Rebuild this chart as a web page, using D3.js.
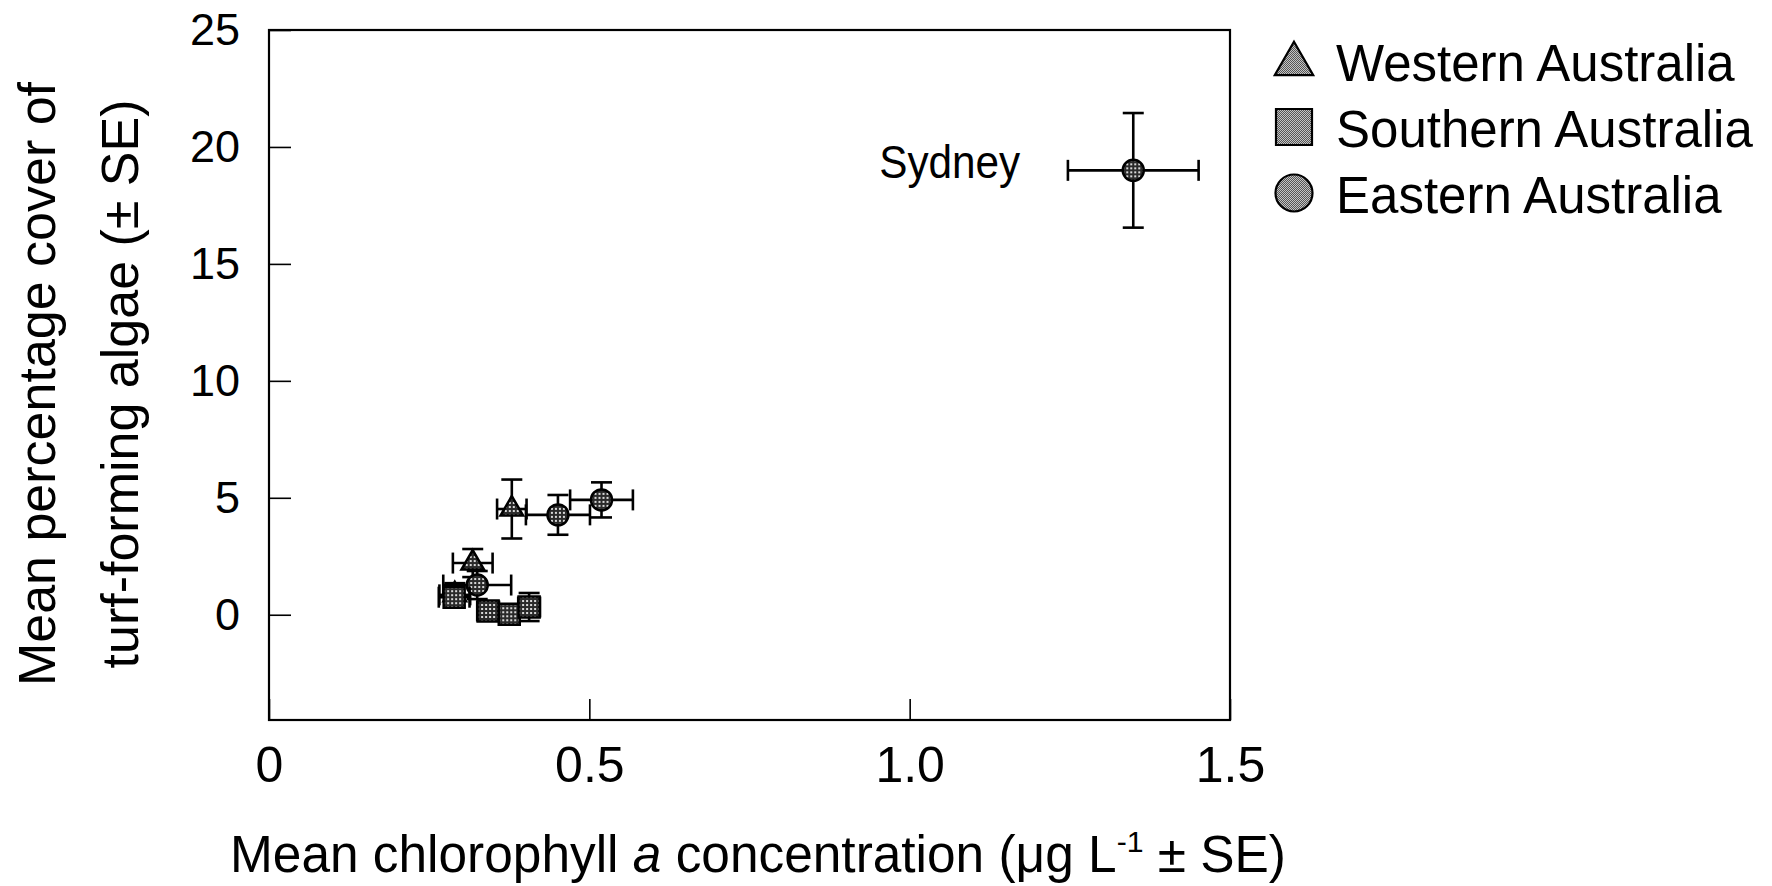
<!DOCTYPE html>
<html>
<head>
<meta charset="utf-8">
<script src="https://cdn.jsdelivr.net/npm/d3@7/dist/d3.min.js"></script>
<style>
  body { margin: 0; background: #fff; }
  text { font-family: "Liberation Sans", Arial, sans-serif; fill: #000; }
</style>
</head>
<body>
<script>
var w = 1772;
var h = 886;

// values
var seriesNames = ["Western Australia", "Southern Australia", "Eastern Australia"];

var westX    = [0.379, 0.318, 0.290];
var westY    = [4.52, 2.21, 0.85];
var westXErr = [0.023, 0.031, 0.024];
var westYErr = [1.26, 0.6, 0.5];

var southX    = [0.289, 0.342, 0.375, 0.406];
var southY    = [0.75, 0.16, 0.02, 0.33];
var southXErr = [0.024, 0.017, 0.015, 0.017];
var southYErr = [0.3, 0.2, 0.2, 0.6];

var eastX    = [0.325, 0.451, 0.519, 1.349];
var eastY    = [1.27, 4.27, 4.91, 19.0];
var eastXErr = [0.053, 0.05, 0.049, 0.102];
var eastYErr = [0.6, 0.85, 0.75, 2.45];

var xTicks = [0, 0.5, 1.0, 1.5];
var xTickLabels = ["0", "0.5", "1.0", "1.5"];
var yTicks = [0, 5, 10, 15, 20, 25];

var plotLeft = 269, plotRight = 1230, plotTop = 30, plotBottom = 720;

var svg = d3.select('body')
            .append('svg')
            .attr('width', w)
            .attr('height', h)

svg.append('rect').attr('width', w).attr('height', h).attr('fill', '#fff')

// dotted fills
var defs = svg.append('defs')
var pd = defs.append('pattern').attr('id', 'dotsDark')
             .attr('width', 4).attr('height', 4).attr('patternUnits', 'userSpaceOnUse')
pd.append('rect').attr('width', 4).attr('height', 4).attr('fill', '#2a2a2a')
pd.append('rect').attr('x', 1).attr('y', 1).attr('width', 2).attr('height', 2).attr('fill', '#d8d8d8')

var pl = defs.append('pattern').attr('id', 'dotsLight')
             .attr('width', 2).attr('height', 2).attr('patternUnits', 'userSpaceOnUse')
pl.append('rect').attr('width', 2).attr('height', 2).attr('fill', '#c4c4c4')
pl.append('rect').attr('width', 1).attr('height', 1).attr('fill', '#555')
pl.append('rect').attr('x', 1).attr('y', 1).attr('width', 1).attr('height', 1).attr('fill', '#555')

var x = d3.scaleLinear().domain([0, 1.5]).range([plotLeft, plotRight])
var y = d3.scaleLinear().domain([-4.5, 25]).range([plotBottom, plotTop])

// axes, ticks pointing inward
var yAxis = svg.append('g')
               .attr('transform', 'translate(' + plotLeft + ',0)')
               .call(d3.axisLeft(y).tickValues(yTicks).tickSize(-22).tickPadding(29))
yAxis.select('.domain').remove()
yAxis.selectAll('line').attr('stroke', '#000').attr('stroke-width', 1.6)
yAxis.selectAll('text').attr('font-size', 45).attr('font-family', '"Liberation Sans", Arial, sans-serif')

var xAxis = svg.append('g')
               .attr('transform', 'translate(0,' + plotBottom + ')')
               .call(d3.axisBottom(x).tickValues(xTicks)
                        .tickFormat(function(d, i){ return xTickLabels[i] })
                        .tickSize(-21).tickPadding(26))
xAxis.select('.domain').remove()
xAxis.selectAll('line').attr('stroke', '#000').attr('stroke-width', 1.6)
xAxis.selectAll('text').attr('font-size', 50).attr('font-family', '"Liberation Sans", Arial, sans-serif')

// plot frame
svg.append('rect')
   .attr('x', plotLeft).attr('y', plotTop)
   .attr('width', plotRight - plotLeft).attr('height', plotBottom - plotTop)
   .attr('fill', 'none').attr('stroke', '#000').attr('stroke-width', 2.2)

// axis titles
var xt = svg.append('text')
            .attr('x', 230).attr('y', 872)
            .attr('font-size', 51)
            .attr('textLength', 1056).attr('lengthAdjust', 'spacingAndGlyphs')
xt.append('tspan').text('Mean chlorophyll ')
xt.append('tspan').attr('font-style', 'italic').text('a')
xt.append('tspan').text(' concentration (\u03bcg L')
xt.append('tspan').attr('font-size', 30).attr('dy', -20).text('-1')
xt.append('tspan').attr('dy', 20).text(' \u00b1 SE)')

var yt = svg.append('text')
            .attr('transform', 'translate(55,384) rotate(-90)')
            .attr('text-anchor', 'middle')
            .attr('font-size', 52)
yt.append('tspan').attr('x', 0).attr('y', 0).text('Mean percentage cover of')
yt.append('tspan').attr('x', 0).attr('y', 83).text('turf-forming algae (\u00b1 SE)')

// points with error bars
var cap = 10.5

function drawSeries(xs, ys, xe, ye, symbolType, size) {
    var data = xs.map(function(d, i){ return {x: d, y: ys[i], xe: xe[i], ye: ye[i]} })
    var g = svg.append('g')

    var eb = g.selectAll('.eb').data(data).enter().append('g')
              .attr('stroke', '#000').attr('stroke-width', 2.6).attr('fill', 'none')
    eb.append('line')
      .attr('x1', function(d){ return x(d.x - d.xe) }).attr('x2', function(d){ return x(d.x + d.xe) })
      .attr('y1', function(d){ return y(d.y) }).attr('y2', function(d){ return y(d.y) })
    eb.append('line')
      .attr('x1', function(d){ return x(d.x) }).attr('x2', function(d){ return x(d.x) })
      .attr('y1', function(d){ return y(d.y - d.ye) }).attr('y2', function(d){ return y(d.y + d.ye) })
    // caps
    eb.append('line')
      .attr('x1', function(d){ return x(d.x - d.xe) }).attr('x2', function(d){ return x(d.x - d.xe) })
      .attr('y1', function(d){ return y(d.y) - cap }).attr('y2', function(d){ return y(d.y) + cap })
    eb.append('line')
      .attr('x1', function(d){ return x(d.x + d.xe) }).attr('x2', function(d){ return x(d.x + d.xe) })
      .attr('y1', function(d){ return y(d.y) - cap }).attr('y2', function(d){ return y(d.y) + cap })
    eb.append('line')
      .attr('x1', function(d){ return x(d.x) - cap }).attr('x2', function(d){ return x(d.x) + cap })
      .attr('y1', function(d){ return y(d.y - d.ye) }).attr('y2', function(d){ return y(d.y - d.ye) })
    eb.append('line')
      .attr('x1', function(d){ return x(d.x) - cap }).attr('x2', function(d){ return x(d.x) + cap })
      .attr('y1', function(d){ return y(d.y + d.ye) }).attr('y2', function(d){ return y(d.y + d.ye) })

    g.selectAll('.pt').data(data).enter().append('path')
     .attr('d', d3.symbol().type(symbolType).size(size))
     .attr('transform', function(d){ return 'translate(' + x(d.x) + ',' + y(d.y) + ')' })
     .attr('fill', 'url(#dotsDark)')
     .attr('stroke', '#000').attr('stroke-width', 2.5)
}

drawSeries(westX, westY, westXErr, westYErr, d3.symbolTriangle, 220)
drawSeries(eastX, eastY, eastXErr, eastYErr, d3.symbolCircle, 346)
drawSeries(southX, southY, southXErr, southYErr, d3.symbolSquare, 441)

// Sydney label
svg.append('text')
   .attr('x', x(eastX[3]) - 254).attr('y', y(eastY[3]) + 8)
   .attr('font-size', 46)
   .attr('textLength', 141).attr('lengthAdjust', 'spacingAndGlyphs')
   .text('Sydney')

// legend
var legendSymbols = [d3.symbolTriangle, d3.symbolSquare, d3.symbolCircle]
var legendSizes = [640, 1296, 1075]
var legend = svg.append('g').attr('transform', 'translate(1294,61)')
var items = legend.selectAll('g').data(seriesNames).enter().append('g')
                  .attr('transform', function(d, i){ return 'translate(0,' + (i * 66) + ')' })
items.append('path')
     .attr('d', function(d, i){ return d3.symbol().type(legendSymbols[i]).size(legendSizes[i])() })
     .attr('transform', function(d, i){ return i == 0 ? 'translate(0,3)' : null })
     .attr('fill', 'url(#dotsLight)')
     .attr('stroke', '#000').attr('stroke-width', 2.2)
items.append('text')
     .attr('x', 42).attr('y', 20)
     .attr('font-size', 51)
     .text(function(d){ return d })
</script>
</body>
</html>
